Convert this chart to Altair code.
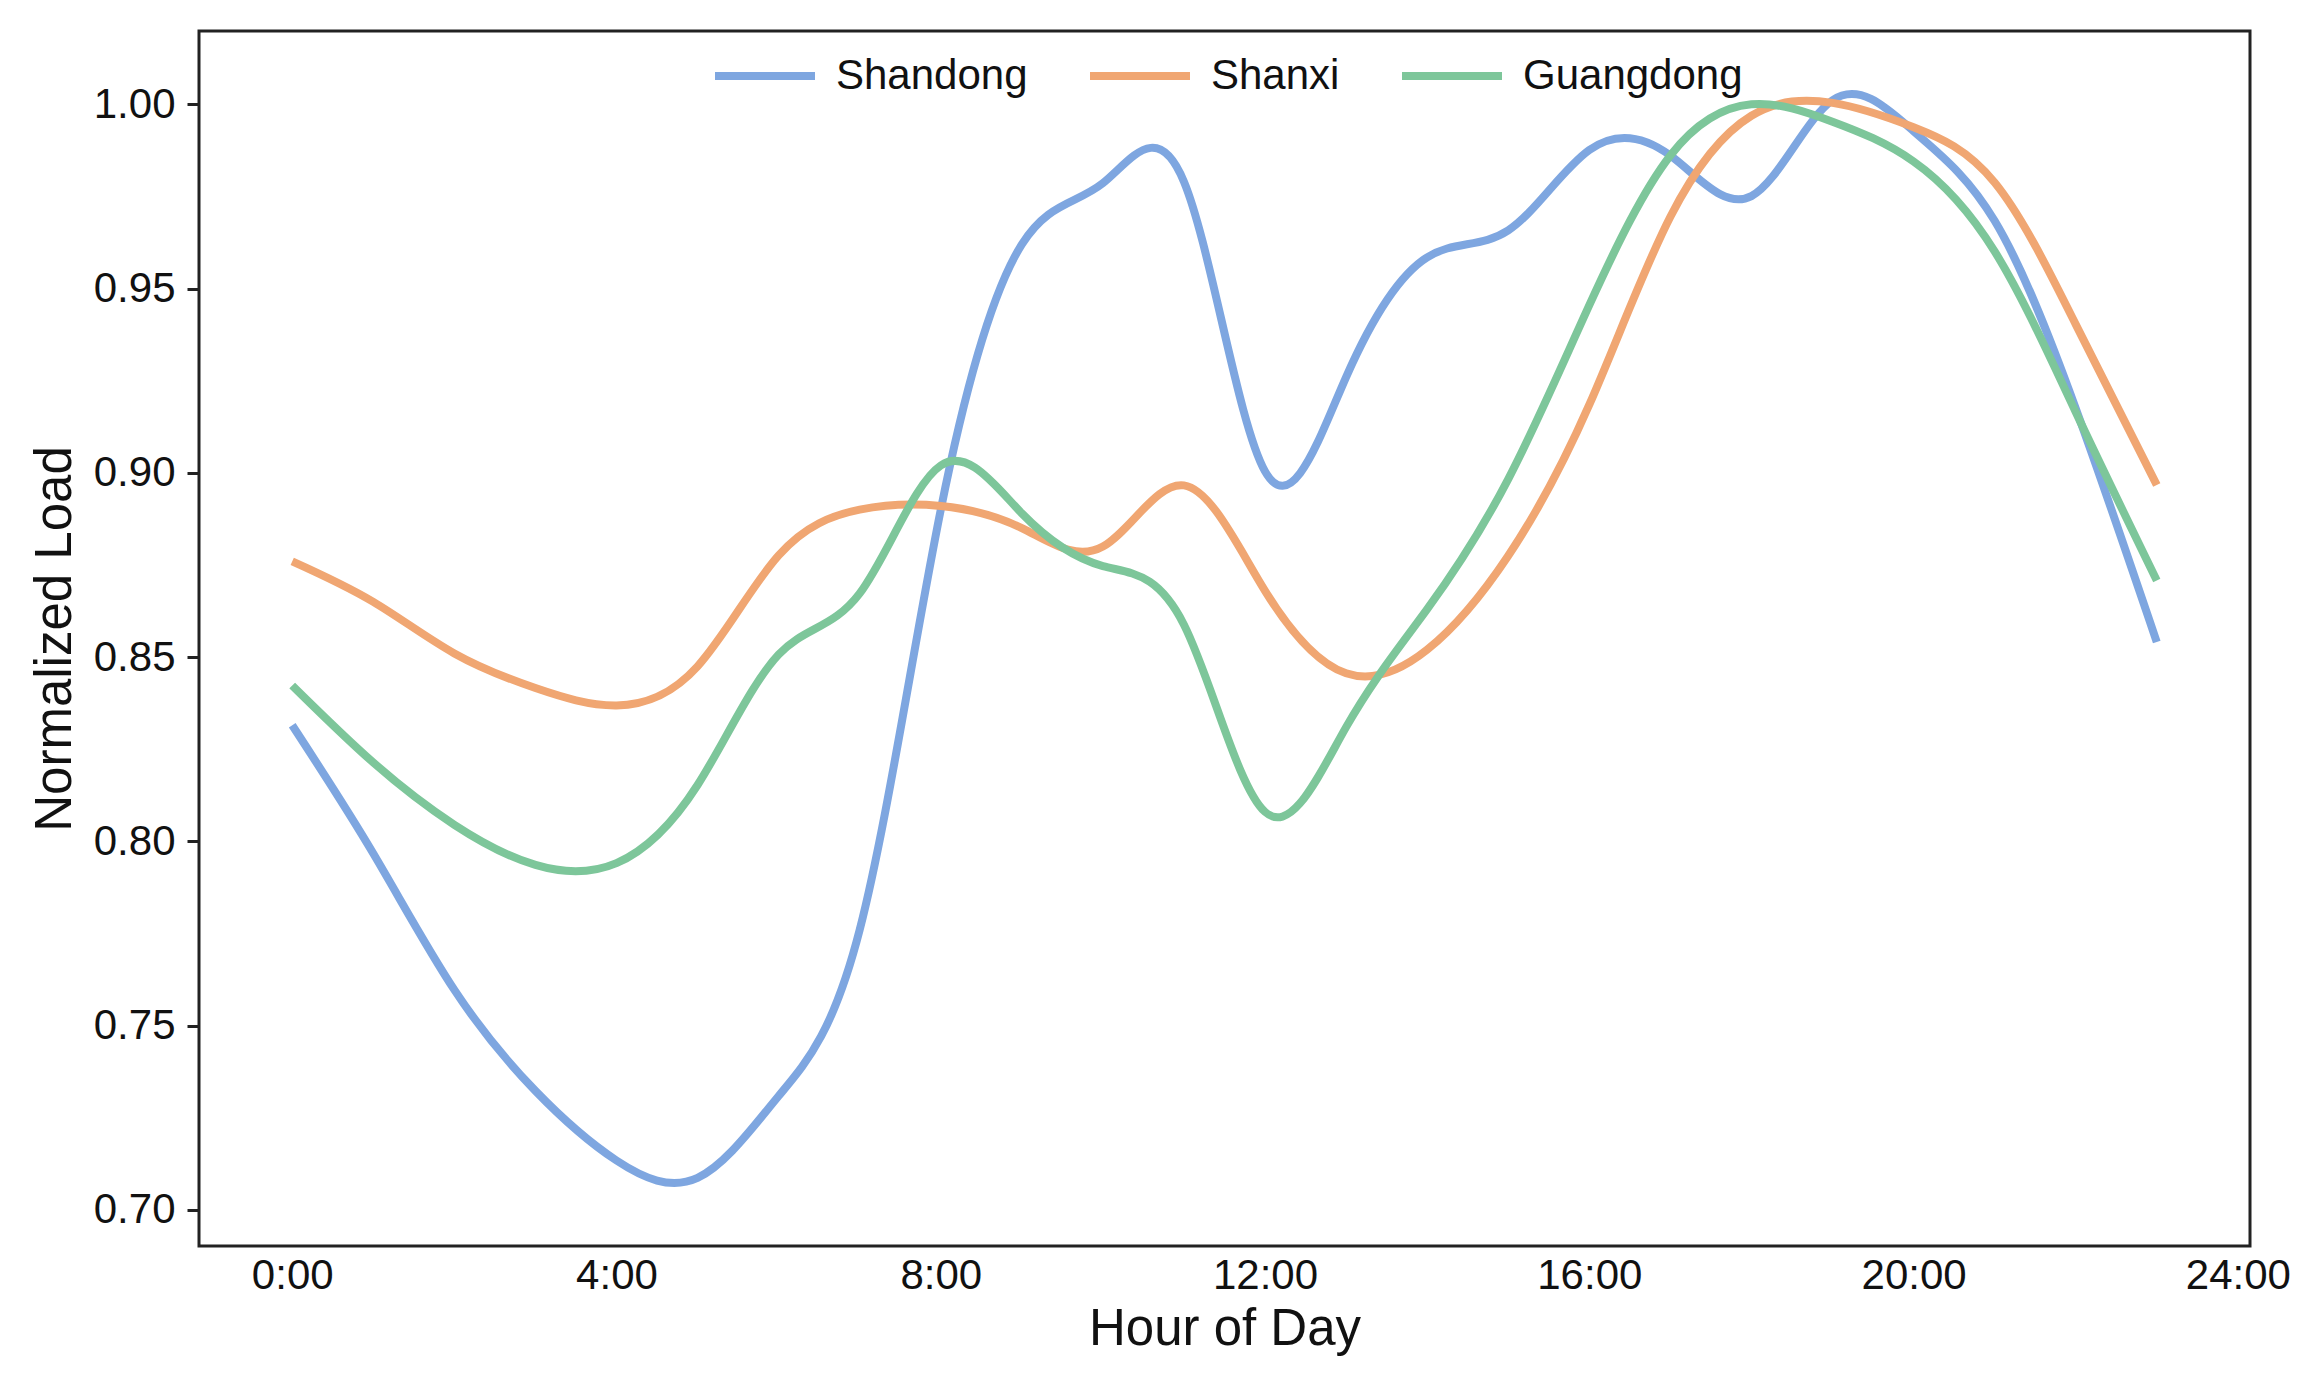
import altair as alt
import pandas as pd

hours = list(range(24))
regions = ["Shandong", "Shanxi", "Guangdong"]
colors = ["#7ea6e0", "#f0a672", "#7dc69a"]

shandong = [0.8315, 0.7967, 0.7597, 0.7323, 0.7134, 0.7087, 0.7309, 0.7760,
            0.8900, 0.9620, 0.9786, 0.9790, 0.9004, 0.9260, 0.9585, 0.9658,
            0.9876, 0.9861, 0.9751, 1.0011, 0.9927, 0.9684, 0.9175, 0.8541]
shanxi = [0.8760, 0.8650, 0.8510, 0.8416, 0.8369, 0.8475, 0.8776, 0.8900,
          0.8910, 0.8850, 0.8800, 0.8966, 0.8680, 0.8456, 0.8520, 0.8775,
          0.9185, 0.9695, 0.9969, 1.0004, 0.9938, 0.9788, 0.9403, 0.8967]
guangdong = [0.8423, 0.8214, 0.8045, 0.7936, 0.7941, 0.8153, 0.8507, 0.8673,
             0.9020, 0.8890, 0.8747, 0.8588, 0.8080, 0.8310, 0.8630, 0.8983,
             0.9455, 0.9861, 1.0000, 0.9953, 0.9845, 0.9601, 0.9165, 0.8708]

x_ticks = [0, 4, 8, 12, 16, 20, 24]
y_ticks = [0.70, 0.75, 0.80, 0.85, 0.90, 0.95, 1.00]

rows = []
for name, vals in zip(regions, [shandong, shanxi, guangdong]):
    for h, v in zip(hours, vals):
        rows.append({"hour": h, "load": v, "region": name})
df = pd.DataFrame(rows)

FONT = "Liberation Sans"

chart = alt.Chart(df).mark_line(interpolate="natural", strokeWidth=8).encode(
    x=alt.X("hour:Q",
            scale=alt.Scale(domain=[-1.15, 24.15], nice=False, zero=False),
            axis=alt.Axis(values=x_ticks, labelExpr="datum.value + ':00'",
                          title="Hour of Day", ticks=False, domain=False,
                          grid=False, labelPadding=9, titlePadding=8,
                          labelFontSize=42, titleFontSize=51)),
    y=alt.Y("load:Q",
            scale=alt.Scale(domain=[0.6902, 1.0199], nice=False, zero=False),
            axis=alt.Axis(values=y_ticks, format=".2f", title="Normalized Load",
                          ticks=True, tickSize=12, tickWidth=3, tickColor="#222222",
                          domain=False, grid=False, labelPadding=12, titlePadding=12,
                          labelFontSize=42, titleFontSize=51)),
    color=alt.Color("region:N",
                    scale=alt.Scale(domain=regions, range=colors),
                    sort=regions,
                    legend=alt.Legend(title=None, orient="none", direction="horizontal",
                                      legendX=512, legendY=-9,
                                      symbolType="stroke", symbolSize=10000,
                                      symbolStrokeWidth=8, labelFontSize=42,
                                      labelOffset=17, columnPadding=46, labelLimit=0,
                                      labelFont=FONT, labelColor="#111111")),
).properties(
    width=2051, height=1215,
    autosize=alt.AutoSizeParams(type="none"),
    padding={"left": 191, "top": 23, "right": 60, "bottom": 133},
).configure_view(
    stroke="#222222", strokeWidth=3
).configure_axis(
    labelFont=FONT, titleFont=FONT, labelColor="#111111", titleColor="#111111",
    titleFontWeight="normal"
)

chart.save("out.html", embed_options={"renderer": "svg", "actions": False})
